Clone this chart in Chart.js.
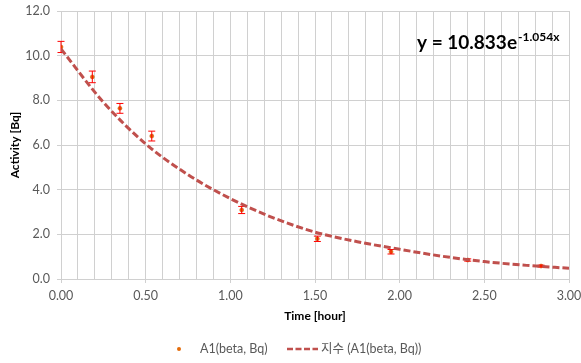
<html>
<head>
<meta charset="utf-8">
<script src="https://cdn.jsdelivr.net/npm/chart.js"></script>
<style>
  html, body { margin: 0; padding: 0; background: #fff; }
  #wrap { width: 581px; height: 363px; }
</style>
</head>
<body>
<div id="wrap"><canvas id="myChart" width="581" height="363"></canvas></div>
<script>
// measured points (hour, Bq) with error bar half-heights
var times = [0.0, 0.185, 0.348, 0.536, 1.067, 1.514, 1.949, 2.402, 2.835];
var activity = [10.39, 9.05, 7.64, 6.40, 3.09, 1.80, 1.22, 0.85, 0.58];
var errors = [0.25, 0.26, 0.22, 0.22, 0.16, 0.12, 0.10, 0.05, 0.04];

// exponential trendline
var trendTimes = [0, 0.25, 0.5, 0.75, 1.0, 1.25, 1.5, 1.75, 2.0, 2.25, 2.5, 2.75, 3.0];
var trendValues = [10.3, 7.92, 6.05, 4.67, 3.6, 2.75, 2.1, 1.67, 1.33, 1.02, 0.78, 0.61, 0.48];

var xTicks = [0, 0.5, 1.0, 1.5, 2.0, 2.5, 3.0];
var yTicks = [0, 2, 4, 6, 8, 10, 12];

var seriesName = 'A1(beta, Bq)';
var trendName = '지수 (A1(beta, Bq))';
var eqMain = 'y = 10.833e';
var eqExp = '-1.054x';

var FONT = 'Lato, "Noto Sans CJK KR", sans-serif';
var GRID = '#d0d0d0';
var TEXT = '#595959';

var pointData = times.map(function (t, i) { return { x: t, y: activity[i] }; });
var trendData = trendTimes.map(function (t, i) { return { x: t, y: trendValues[i] }; });

var errorBars = {
    id: 'errorBars',
    afterDatasetDraw: function (chart, args) {
        if (args.index !== 1) return;
        var ctx = chart.ctx, xs = chart.scales.x, ys = chart.scales.y;
        ctx.save();
        ctx.strokeStyle = '#ff0000';
        ctx.lineWidth = 1;
        for (var i = 0; i < times.length; i++) {
            var px = xs.getPixelForValue(times[i]);
            var top = ys.getPixelForValue(activity[i] + errors[i]);
            var bot = ys.getPixelForValue(activity[i] - errors[i]);
            ctx.beginPath();
            ctx.moveTo(px, top); ctx.lineTo(px, bot);
            ctx.moveTo(px - 3.5, top); ctx.lineTo(px + 3.5, top);
            ctx.moveTo(px - 3.5, bot); ctx.lineTo(px + 3.5, bot);
            ctx.stroke();
        }
        ctx.restore();
    }
};

var extras = {
    id: 'extras',
    afterDraw: function (chart) {
        var ctx = chart.ctx;
        ctx.save();
        // equation
        ctx.fillStyle = '#000';
        ctx.textBaseline = 'alphabetic';
        ctx.font = 'bold 19px ' + FONT;
        ctx.fillText(eqMain, 417, 49);
        var w = ctx.measureText(eqMain).width;
        ctx.font = 'bold 12px ' + FONT;
        ctx.fillText(eqExp, 417 + w + 1, 41);

        // legend
        var ly = 349;
        ctx.fillStyle = '#e46c0a';
        ctx.beginPath();
        ctx.arc(179, ly, 2, 0, Math.PI * 2);
        ctx.fill();
        ctx.fillStyle = TEXT;
        ctx.font = '12.5px ' + FONT;
        ctx.textBaseline = 'middle';
        ctx.fillText(seriesName, 200, ly);
        ctx.strokeStyle = '#c0504d';
        ctx.lineWidth = 2.5;
        ctx.setLineDash([6, 2.5]);
        ctx.beginPath();
        ctx.moveTo(287, ly); ctx.lineTo(318, ly);
        ctx.stroke();
        ctx.setLineDash([]);
        ctx.fillText(trendName, 321, ly);
        ctx.restore();
    }
};

function isMajor(v, list) {
    for (var i = 0; i < list.length; i++) {
        if (Math.abs(list[i] - v) < 1e-6) return true;
    }
    return false;
}

var ctx = document.getElementById('myChart').getContext('2d');
var myChart = new Chart(ctx, {
    type: 'scatter',
    data: {
        datasets: [{
            type: 'line',
            label: trendName,
            data: trendData,
            borderColor: '#c0504d',
            borderWidth: 3,
            borderDash: [7, 3],
            pointRadius: 0,
            cubicInterpolationMode: 'monotone',
            fill: false,
            order: 0
        }, {
            label: seriesName,
            data: pointData,
            backgroundColor: '#e46c0a',
            borderColor: '#c55a11',
            borderWidth: 0.5,
            pointRadius: 2,
            showLine: false,
            order: 1
        }]
    },
    options: {
        responsive: false,
        animation: false,
        layout: { padding: { top: 11, right: 12, left: 0, bottom: 0 } },
        plugins: {
            legend: { display: false },
            tooltip: { enabled: false }
        },
        scales: {
            x: {
                type: 'linear',
                min: 0,
                max: 3,
                afterFit: function (s) { s.height = 84; s.paddingLeft = 0; s.paddingRight = 0; },
                grid: {
                    color: GRID,
                    tickLength: 4,
                    tickColor: function (c) { return isMajor(c.tick.value, xTicks) ? GRID : 'rgba(0,0,0,0)'; }
                },
                border: { color: GRID },
                ticks: {
                    stepSize: 0.1,
                    autoSkip: false,
                    maxRotation: 0,
                    padding: 5,
                    color: TEXT,
                    font: { family: FONT, size: 12.5 },
                    callback: function (v) { return isMajor(v, xTicks) ? Number(v).toFixed(2) : ''; }
                },
                title: {
                    display: true,
                    text: 'Time [hour]',
                    color: '#000',
                    font: { family: FONT, size: 12, weight: 'bold' },
                    padding: { top: 0, bottom: 40 }
                }
            },
            y: {
                min: 0,
                max: 12,
                afterFit: function (s) { s.width = 61; s.paddingTop = 0; s.paddingBottom = 0; },
                grid: { color: GRID, tickLength: 4 },
                border: { color: GRID },
                ticks: {
                    stepSize: 2,
                    padding: 7,
                    color: TEXT,
                    font: { family: FONT, size: 12.5 },
                    callback: function (v) { return Number(v).toFixed(1); }
                },
                title: {
                    display: true,
                    text: 'Activity [Bq]',
                    color: '#000',
                    font: { family: FONT, size: 12, weight: 'bold' },
                    padding: { top: 8, bottom: 0 }
                }
            }
        }
    },
    plugins: [errorBars, extras]
});
</script>
</body>
</html>
